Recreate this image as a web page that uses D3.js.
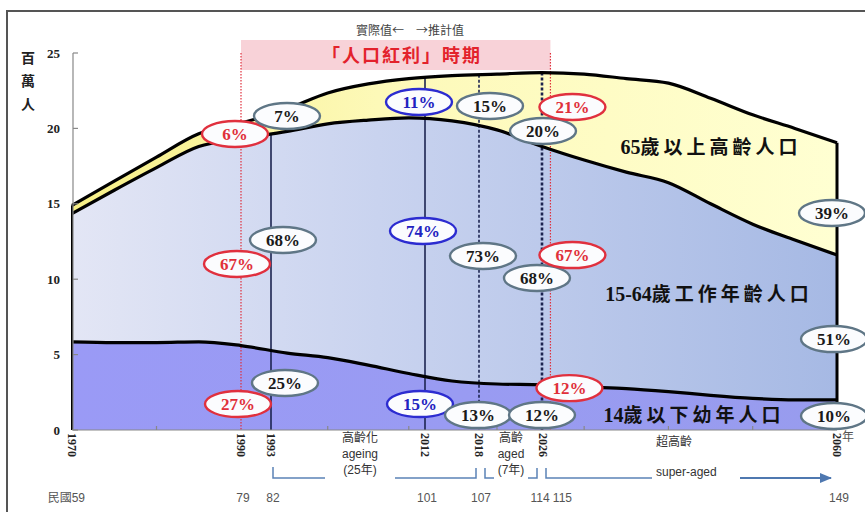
<!DOCTYPE html>
<html>
<head>
<meta charset="utf-8">
<script src="https://cdn.jsdelivr.net/npm/d3@7/dist/d3.min.js"></script>
<style>
  body { margin: 0; background: #fff; }
  svg { display: block; }
  .num { font-family: "Liberation Serif", "Times New Roman", serif; font-weight: bold; }
  .cjk { font-family: "Noto Sans CJK TC", "Noto Sans CJK SC", sans-serif; }
  .note { font-family: "Liberation Sans", Arial, "Noto Sans CJK TC", sans-serif; }
</style>
</head>
<body>
<svg id="chart" width="865" height="512"></svg>
<script>
// Population by age group, millions
var years     = [1970, 1975, 1980, 1985, 1990, 1995, 2000, 2005, 2010, 2015, 2020, 2025, 2030, 2035, 2040, 2045, 2050, 2055, 2060];
var childPop  = [5.85, 5.8, 5.8, 5.85, 5.6, 5.1, 4.8, 4.3, 3.75, 3.25, 3.05, 3.0, 2.85, 2.75, 2.55, 2.3, 2.1, 2.0, 2.0];
var workPop   = [8.5, 10.1, 11.6, 12.95, 13.7, 14.7, 15.5, 16.25, 16.95, 17.25, 16.85, 15.8, 15.05, 14.35, 13.85, 12.7, 11.55, 10.6, 9.6];
var elderPop  = [0.55, 0.6, 0.7, 0.85, 1.05, 1.5, 2.05, 2.4, 2.6, 3.0, 3.7, 4.9, 5.7, 6.2, 6.6, 7.0, 7.25, 7.4, 7.45];

// Share of each group at the milestone years (%)
var pctYears  = [1990, 1993, 2012, 2018, 2025, 2026, 2060];
var elderPct  = [6, 7, 11, 15, 20, 21, 39];
var workPct   = [67, 68, 74, 73, 68, 67, 51];
var childPct  = [27, 25, 15, 13, 12, 12, 10];

var yTicks    = [0, 5, 10, 15, 20, 25];
var axisYears = [1970, 1990, 1993, 2012, 2018, 2026, 2060];
var axisLabelAt = [1970, 1990, 1993, 2012, 2018, 2025.2, 2060];
var rocLabels = ["民國59", "79", "82", "101", "107", "114", "115", "149"];
var rocYears  = [1970, 1990, 1993, 2012, 2018, 2025, 2026, 2060];
var minorTicks = [1980, 2000, 2010, 2020, 2030, 2040, 2050];

// ---- layout ----
var svg = d3.select("#chart");

// the original axis is hand-spaced, so use a piecewise scale through the marked years
var x = d3.scaleLinear()
  .domain([1970, 1990, 1993, 2012, 2018, 2025, 2060])
  .range([72, 241, 271, 425, 479, 542, 837]);
var y = d3.scaleLinear().domain([0, 25]).range([430, 53]);

var rows = years.map(function(yr, i) {
  return { year: yr, child: childPop[i], work: workPop[i], elder: elderPop[i] };
});
var stack = d3.stack().keys(["child", "work", "elder"]);
var layers = stack(rows);

var totalAt = d3.scaleLinear().domain(years).range(rows.map(function(d) { return d.child + d.work + d.elder; }));
var cumWorkAt = d3.scaleLinear().domain(years).range(rows.map(function(d) { return d.child + d.work; }));

// gradients
var defs = svg.append("defs");
function hGrad(id, stops) {
  var g = defs.append("linearGradient").attr("id", id)
    .attr("gradientUnits", "userSpaceOnUse")
    .attr("x1", x(1970)).attr("x2", x(2060)).attr("y1", 0).attr("y2", 0);
  stops.forEach(function(s) { g.append("stop").attr("offset", s[0]).attr("stop-color", s[1]); });
}
hGrad("gChild", [[0, "#9a9af6"], [1, "#989cee"]]);
hGrad("gWork", [[0, "#e3e6f5"], [0.4, "#c9d3ef"], [1, "#a6b9e4"]]);
hGrad("gElder", [[0, "#f6ef86"], [0.4, "#fdf9b8"], [1, "#ffffd2"]]);
defs.append("marker").attr("id", "arrow")
  .attr("viewBox", "0 0 10 10").attr("refX", 9).attr("refY", 5)
  .attr("markerWidth", 7).attr("markerHeight", 7).attr("orient", "auto")
  .append("path").attr("d", "M0,1L10,5L0,9Z").attr("fill", "#4f78b0");

// outer frame
svg.append("path").attr("d", "M7,512V11H865")
  .attr("fill", "none").attr("stroke", "#555").attr("stroke-width", 2);

// header band
svg.append("rect")
  .attr("x", x(1990)).attr("y", 40)
  .attr("width", x(2026) - x(1990)).attr("height", 30)
  .attr("fill", "#f8d2d8");
svg.append("text").attr("class", "cjk")
  .attr("x", 402).attr("y", 62).attr("text-anchor", "middle")
  .attr("font-size", 18).attr("font-weight", "bold").attr("letter-spacing", 2)
  .attr("fill", "#e3222c").text("「人口紅利」時期");
svg.append("text").attr("class", "cjk")
  .attr("x", 404).attr("y", 35).attr("text-anchor", "end")
  .attr("font-size", 12).attr("fill", "#444").text("實際值←");
svg.append("text").attr("class", "cjk")
  .attr("x", 416).attr("y", 35).attr("text-anchor", "start")
  .attr("font-size", 12).attr("fill", "#444").text("→推計值");

// stacked areas
var area = d3.area()
  .x(function(d) { return x(d.data.year); })
  .y0(function(d) { return y(d[0]); })
  .y1(function(d) { return y(d[1]); })
  .curve(d3.curveMonotoneX);
var fills = { child: "url(#gChild)", work: "url(#gWork)", elder: "url(#gElder)" };

svg.append("g").selectAll("path")
  .data(layers)
  .enter().append("path")
  .attr("d", area)
  .attr("fill", function(d) { return fills[d.key]; });

// red dotted lines bounding the dividend period
[1990, 2026].forEach(function(yr) {
  svg.append("line")
    .attr("x1", x(yr)).attr("x2", x(yr)).attr("y1", 53).attr("y2", y(0))
    .attr("stroke", "#e0303c").attr("stroke-width", 1.2)
    .attr("stroke-dasharray", "1.5,1.5");
});

// milestone lines
var navy = "#1c2450";
svg.append("line").attr("x1", x(1993)).attr("x2", x(1993))
  .attr("y1", y(cumWorkAt(1993))).attr("y2", y(0))
  .attr("stroke", navy).attr("stroke-width", 1.6);
svg.append("line").attr("x1", x(2012)).attr("x2", x(2012))
  .attr("y1", y(totalAt(2012))).attr("y2", y(0))
  .attr("stroke", navy).attr("stroke-width", 1.6);
svg.append("line").attr("x1", x(2018)).attr("x2", x(2018))
  .attr("y1", y(totalAt(2018))).attr("y2", y(0))
  .attr("stroke", navy).attr("stroke-width", 1.6).attr("stroke-dasharray", "3,2");
svg.append("line").attr("x1", x(2025)).attr("x2", x(2025))
  .attr("y1", y(totalAt(2025))).attr("y2", y(0))
  .attr("stroke", navy).attr("stroke-width", 2.6).attr("stroke-dasharray", "3,2");

// boundary lines
var line = d3.line()
  .x(function(d) { return x(d.data.year); })
  .y(function(d) { return y(d[1]); })
  .curve(d3.curveMonotoneX);
svg.append("g").selectAll("path")
  .data(layers)
  .enter().append("path")
  .attr("d", line)
  .attr("fill", "none").attr("stroke", "#000").attr("stroke-width", 3.2);

// end edges
svg.append("line").attr("x1", x(2060)).attr("x2", x(2060))
  .attr("y1", y(0)).attr("y2", y(totalAt(2060)))
  .attr("stroke", "#000").attr("stroke-width", 3);
svg.append("line").attr("x1", x(1970)).attr("x2", x(1970))
  .attr("y1", y(0)).attr("y2", y(totalAt(1970)))
  .attr("stroke", "#000").attr("stroke-width", 2);

// y axis
var yAxis = svg.append("g");
yAxis.append("line").attr("x1", 73).attr("x2", 73).attr("y1", y(25)).attr("y2", y(0))
  .attr("stroke", "#888").attr("stroke-width", 1.2);
yAxis.selectAll(".tick").data(yTicks).enter().append("line")
  .attr("x1", 73).attr("x2", 78)
  .attr("y1", function(d) { return y(d); }).attr("y2", function(d) { return y(d); })
  .attr("stroke", "#888").attr("stroke-width", 1.2);
yAxis.selectAll("text").data(yTicks).enter().append("text")
  .attr("class", "num")
  .attr("x", 60).attr("y", function(d) { return y(d); })
  .attr("dy", "0.35em").attr("text-anchor", "end")
  .attr("font-size", 13).attr("fill", "#222")
  .text(function(d) { return d; });
["百", "萬", "人"].forEach(function(c, i) {
  svg.append("text").attr("class", "cjk")
    .attr("x", 28).attr("y", 63 + i * 23).attr("text-anchor", "middle")
    .attr("font-size", 14).attr("font-weight", "bold").attr("fill", "#222").text(c);
});

// x axis
svg.append("line").attr("x1", x(1970)).attr("x2", x(2060)).attr("y1", y(0)).attr("y2", y(0))
  .attr("stroke", "#888").attr("stroke-width", 1.2);
svg.append("g").selectAll("line").data(minorTicks).enter().append("line")
  .attr("x1", function(d) { return x(d); }).attr("x2", function(d) { return x(d); })
  .attr("y1", y(0)).attr("y2", y(0) - 4)
  .attr("stroke", "#888").attr("stroke-width", 1.2);
svg.append("g").selectAll("text").data(axisYears).enter().append("text")
  .attr("class", "num")
  .attr("transform", function(d, i) { return "translate(" + x(axisLabelAt[i]) + "," + 433 + ") rotate(90)"; })
  .attr("dy", "0.35em").attr("font-size", 12).attr("fill", "#222")
  .text(function(d) { return d; });
svg.append("text").attr("class", "cjk")
  .attr("x", 848).attr("y", 441).attr("text-anchor", "middle")
  .attr("font-size", 12).attr("fill", "#555").text("年");

// ROC calendar years
svg.append("g").selectAll("text").data(rocLabels).enter().append("text")
  .attr("class", "note")
  .attr("x", function(d, i) {
    if (i === 0) return x(rocYears[i]) + 13;
    if (d === "114") return x(rocYears[i]) - 2;
    if (d === "115") return x(rocYears[i]) + 12;
    return x(rocYears[i]) + 2;
  })
  .attr("y", 502)
  .attr("text-anchor", function(d, i) { return i === 0 ? "end" : "middle"; })
  .attr("font-size", 12).attr("fill", "#555")
  .text(function(d) { return d; });

// stage brackets
var bracketColor = "#5b82b6";
var b = "M" + (x(1993) + 2) + ",467V478H325" +
        "M395,478H" + (x(2018) - 3) + "V468" +
        "M" + (x(2018) + 6) + ",468V478H494" +
        "M528,478H" + (x(2025) - 5) + "V468" +
        "M" + (x(2025) + 4) + ",468V478H652";
svg.append("path").attr("d", b).attr("fill", "none")
  .attr("stroke", bracketColor).attr("stroke-width", 1.5);
svg.append("line").attr("x1", 740).attr("x2", 831).attr("y1", 478).attr("y2", 478)
  .attr("stroke", "#4f78b0").attr("stroke-width", 1.8).attr("marker-end", "url(#arrow)");

function stageText(lines, cx, ys, anchor) {
  lines.forEach(function(t, i) {
    svg.append("text").attr("class", "note")
      .attr("x", cx).attr("y", ys[i]).attr("text-anchor", anchor || "middle")
      .attr("font-size", 12).attr("fill", "#333").text(t);
  });
}
stageText(["高齡化", "ageing", "(25年)"], 360, [442, 458, 474]);
stageText(["高齡", "aged", "(7年)"], 511, [442, 458, 474]);
stageText(["超高齡", "super-aged"], 656, [446, 476], "start");

// group names
function groupLabel(num, rest, cx, cy) {
  var t = svg.append("text").attr("x", cx).attr("y", cy).attr("text-anchor", "middle")
    .attr("fill", "#111").attr("font-size", 19);
  t.append("tspan").attr("class", "num").attr("font-size", 20).text(num);
  t.append("tspan").attr("class", "cjk").attr("font-weight", "bold")
    .attr("letter-spacing", 4).text(rest);
}
groupLabel("65", "歲以上高齡人口", 711, 154);
groupLabel("15-64", "歲工作年齡人口", 709, 301);
groupLabel("14", "歲以下幼年人口", 694, 422);

// percentage bubbles: [dx from the year's line, vertical position in millions]
var elderPlace = [[-6, 19.63], [16, 20.82], [-6, 21.75], [11, 21.49], [1, 19.83], [22, 21.42], [-5, 14.39]];
var workPlace  = [[-4, 11.01], [12, 12.6], [-2, 13.2], [4, 11.54], [-5, 10.08], [22, 11.6], [-3, 6.03]];
var childPlace = [[-3, 1.72], [14, 3.12], [-5, 1.72], [-1, 0.99], [0, 0.99], [19, 2.78], [-3, 0.93]];
var bubbleStyle = ["red", "gray", "blue", "gray", "gray", "red", "gray"];
var strokeCol = { red: "#e0303e", gray: "#5f7686", blue: "#2c2cd0" };
var textCol = { red: "#e0303a", gray: "#1a1a1a", blue: "#2222c0" };

function bubbles(pcts, place) {
  var g = svg.append("g").selectAll("g")
    .data(pcts)
    .enter().append("g")
    .attr("transform", function(d, i) {
      return "translate(" + (x(pctYears[i]) + place[i][0]) + "," + y(place[i][1]) + ")";
    });
  g.append("ellipse")
    .attr("rx", 33).attr("ry", 13)
    .attr("fill", "#fbfcfe")
    .attr("stroke", function(d, i) { return strokeCol[bubbleStyle[i]]; })
    .attr("stroke-width", 2.4);
  g.append("text")
    .attr("class", "num")
    .attr("text-anchor", "middle").attr("dy", "0.35em")
    .attr("font-size", 17)
    .attr("fill", function(d, i) { return textCol[bubbleStyle[i]]; })
    .text(function(d) { return d + "%"; });
}
bubbles(elderPct, elderPlace);
bubbles(workPct, workPlace);
bubbles(childPct, childPlace);
</script>
</body>
</html>
